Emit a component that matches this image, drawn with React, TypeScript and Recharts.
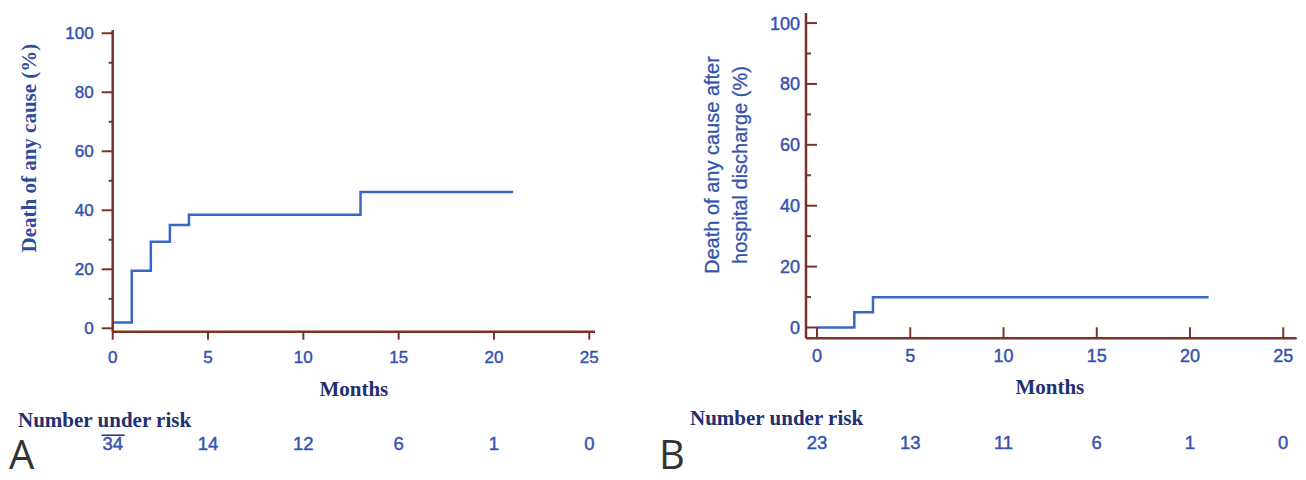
import { LineChart, Line, XAxis, YAxis, Label } from 'recharts';

// Panel A: death of any cause
const monthsA = [0, 1, 2, 3, 4, 13, 21];
const deathA = [2, 19.5, 29.3, 35, 38.5, 46.2, 46.2];
const riskA = [34, 14, 12, 6, 1, 0];

// Panel B: death of any cause after hospital discharge
const monthsB = [0, 2, 3, 21];
const deathB = [0, 5, 9.9, 9.9];
const riskB = [23, 13, 11, 6, 1, 0];

const monthTicks = [0, 5, 10, 15, 20, 25];
const pctTicks = [0, 10, 20, 30, 40, 50, 60, 70, 80, 90, 100];

const AXIS = '#7a3326';
const TICK = '#3553b0';
const LINE = '#3a66c8';
const TITLE = '#22306e';
const SANS = '"Liberation Sans", Arial, sans-serif';
const SERIF = '"Liberation Serif", "Times New Roman", serif';

const dataA = monthsA.map((m, i) => ({ m, v: deathA[i] }));
const dataB = monthsB.map((m, i) => ({ m, v: deathB[i] }));

// tick numbers look a bit heavy in the scan
const numStyle = { fill: TICK, fontFamily: SANS, stroke: TICK, strokeWidth: 0.45 };

// y ticks of panel A point outwards, minor ones shorter and unlabelled
function YTickA(props: any) {
  const { x, y, payload } = props;
  const major = payload.value % 20 === 0;
  return (
    <g>
      <line x1={x - (major ? 11 : 4)} x2={x} y1={y} y2={y} stroke={AXIS} strokeWidth={2} />
      {major && (
        <text x={x - 19} y={y} dy={6} textAnchor="end" fontSize={17} {...numStyle}>
          {payload.value}
        </text>
      )}
    </g>
  );
}

// panel B ticks point inwards
function YTickB(props: any) {
  const { x, y, payload } = props;
  const major = payload.value % 20 === 0;
  return (
    <g>
      <line x1={x} x2={x + (major ? 11 : 5)} y1={y} y2={y} stroke={AXIS} strokeWidth={2} />
      {major && (
        <text x={x - 6} y={y} dy={6.5} textAnchor="end" fontSize={18} {...numStyle}>
          {payload.value}
        </text>
      )}
    </g>
  );
}

function XTickA(props: any) {
  const { x, y, payload, index } = props;
  return (
    <g>
      <line x1={x} x2={x} y1={y} y2={y + 8} stroke={AXIS} strokeWidth={2} />
      <text x={x} y={y + 31.5} textAnchor="middle" fontSize={17} {...numStyle}>
        {payload.value}
      </text>
      <text x={x} y={y + 118} textAnchor="middle" fontSize={18.5} {...numStyle}>
        {riskA[index]}
      </text>
      {index === 0 && <line x1={x - 11} x2={x + 12} y1={y + 103.5} y2={y + 103.5} stroke={TITLE} strokeWidth={1.5} />}
    </g>
  );
}

function XTickB(props: any) {
  const { x, y, payload, index } = props;
  return (
    <g>
      <line x1={x} x2={x} y1={y - 11} y2={y} stroke={AXIS} strokeWidth={2} />
      <text x={x} y={y + 23.5} textAnchor="middle" fontSize={18} {...numStyle}>
        {payload.value}
      </text>
      <text x={x} y={y + 111} textAnchor="middle" fontSize={18.5} {...numStyle}>
        {riskB[index]}
      </text>
    </g>
  );
}

export default function App() {
  return (
    <div style={{ position: 'absolute', left: 0, top: 0, width: 1306, height: 480, background: '#fff' }}>
      <div style={{ position: 'absolute', left: 0, top: 0 }}>
        <LineChart width={640} height={480} data={dataA} margin={{ top: 30, right: 45, bottom: 118.3, left: 52.7 }}>
          <XAxis
            dataKey="m"
            type="number"
            domain={[0, 25.3]}
            ticks={monthTicks}
            interval={0}
            height={30}
            tickSize={0}
            tickMargin={0}
            tickLine={false}
            tick={<XTickA />}
            axisLine={{ stroke: AXIS, strokeWidth: 2.5 }}
          >
            <Label
              content={(p: any) => {
                const vb = p.viewBox || { x: 112.7, y: 331.7, width: 482.3 };
                return (
                  <text x={vb.x + vb.width / 2} y={vb.y + 64.3} textAnchor="middle" fill={TITLE} fontSize={21} fontWeight="bold" fontFamily={SERIF}>
                    Months
                  </text>
                );
              }}
            />
          </XAxis>
          <YAxis
            type="number"
            domain={[-1.15, 101.1]}
            ticks={pctTicks}
            interval={0}
            width={60}
            tickSize={0}
            tickMargin={0}
            tickLine={false}
            tick={<YTickA />}
            axisLine={{ stroke: AXIS, strokeWidth: 2.5 }}
          >
            <Label
              content={(p: any) => {
                const vb = p.viewBox || { x: 52.7, y: 30, width: 60, height: 301.7 };
                const ax = vb.x + vb.width - 76.7;
                const cy = vb.y + vb.height / 2 - 32.8;
                return (
                  <text x={ax} y={cy} transform={`rotate(-90 ${ax} ${cy})`} textAnchor="middle" fill="#2d4c9e" fontSize={21} fontWeight="bold" fontFamily={SERIF}>
                    Death of any cause (%)
                  </text>
                );
              }}
            />
          </YAxis>
          <Line dataKey="v" type="stepAfter" stroke={LINE} strokeWidth={2.5} dot={false} isAnimationActive={false} />
        </LineChart>
      </div>

      <div style={{ position: 'absolute', left: 640, top: 0 }}>
        <LineChart width={666} height={480} data={dataB} margin={{ top: 13, right: 9.3, bottom: 111.7, left: 106 }}>
          <XAxis
            dataKey="m"
            type="number"
            domain={[-0.59, 25.72]}
            ticks={monthTicks}
            interval={0}
            height={30}
            tickSize={0}
            tickMargin={0}
            tickLine={false}
            tick={<XTickB />}
            axisLine={{ stroke: AXIS, strokeWidth: 2.5 }}
          >
            <Label
              content={(p: any) => {
                const vb = p.viewBox || { x: 166, y: 338.3, width: 490.7 };
                return (
                  <text x={vb.x + vb.width / 2 - 1.5} y={vb.y + 55.7} textAnchor="middle" fill={TITLE} fontSize={21} fontWeight="bold" fontFamily={SERIF}>
                    Months
                  </text>
                );
              }}
            />
          </XAxis>
          <YAxis
            type="number"
            domain={[-3.55, 103.3]}
            ticks={pctTicks}
            interval={0}
            width={60}
            tickSize={0}
            tickMargin={0}
            tickLine={false}
            tick={<YTickB />}
            axisLine={{ stroke: AXIS, strokeWidth: 2.5 }}
          >
            <Label
              content={(p: any) => {
                const vb = p.viewBox || { x: 106, y: 13, width: 60, height: 325.3 };
                const ax = vb.x + vb.width;
                const cy = vb.y + vb.height / 2 - 10.6;
                return (
                  <g fill="#3553ad" fontSize={20} fontFamily={SANS} stroke="#3553ad" strokeWidth={0.3}>
                    <text x={ax - 87} y={cy} transform={`rotate(-90 ${ax - 87} ${cy})`} textAnchor="middle">
                      Death of any cause after
                    </text>
                    <text x={ax - 59} y={cy} transform={`rotate(-90 ${ax - 59} ${cy})`} textAnchor="middle">
                      hospital discharge (%)
                    </text>
                  </g>
                );
              }}
            />
          </YAxis>
          <Line dataKey="v" type="stepAfter" stroke={LINE} strokeWidth={2.5} dot={false} isAnimationActive={false} />
        </LineChart>
      </div>

      <svg width={1306} height={480} style={{ position: 'absolute', left: 0, top: 0, pointerEvents: 'none' }}>
        <text x={18} y={427} fill={TITLE} fontSize={21} fontWeight="bold" fontFamily={SERIF}>Number under risk</text>
        <text x={690} y={425} fill={TITLE} fontSize={21} fontWeight="bold" fontFamily={SERIF}>Number under risk</text>
        <text x={9} y={469} fill="#333" fontSize={40} fontFamily='"Open Sans", sans-serif'>A</text>
        <text x={659} y={469} fill="#333" fontSize={40} fontFamily='"Open Sans", sans-serif'>B</text>
      </svg>
    </div>
  );
}
